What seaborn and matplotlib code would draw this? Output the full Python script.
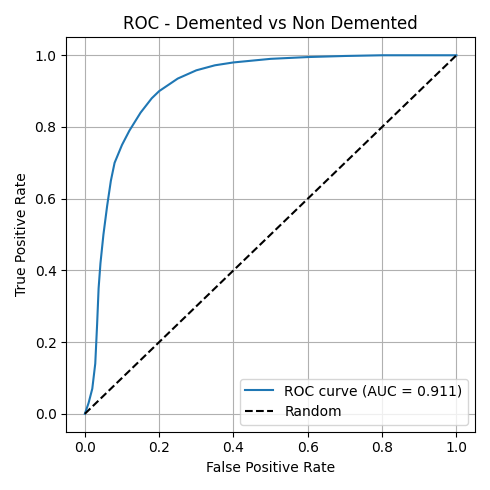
import matplotlib
matplotlib.use("Agg")
import matplotlib.pyplot as plt
import seaborn as sns

# ROC points
fpr = [0.0, 0.01, 0.02, 0.028, 0.033, 0.037, 0.042, 0.05, 0.06, 0.07, 0.08, 0.1,
       0.12, 0.15, 0.18, 0.2, 0.25, 0.3, 0.35, 0.4, 0.5, 0.6, 0.7, 0.8, 0.9, 1.0]
tpr = [0.0, 0.03, 0.07, 0.14, 0.25, 0.35, 0.42, 0.5, 0.58, 0.65, 0.7, 0.75,
       0.79, 0.84, 0.88, 0.9, 0.935, 0.958, 0.972, 0.98, 0.99, 0.995, 0.998, 1.0, 1.0, 1.0]
auc_value = 0.911

fig, ax = plt.subplots(figsize=(4.9, 4.9), dpi=100)
sns.lineplot(x=fpr, y=tpr, ax=ax, sort=False, estimator=None,
             label=f"ROC curve (AUC = {auc_value:.3f})", color="#1f77b4")
sns.lineplot(x=[0, 1], y=[0, 1], ax=ax, color="black", linestyle="--", label="Random")
ax.set_xlabel("False Positive Rate")
ax.set_ylabel("True Positive Rate")
ax.set_title("ROC - Demented vs Non Demented")
ax.grid(True)
ax.legend(loc="lower right")
plt.tight_layout()
plt.savefig("out.png")
